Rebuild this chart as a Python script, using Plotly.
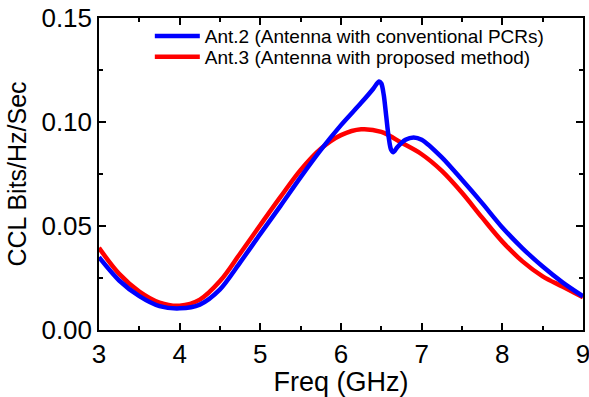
import plotly.graph_objects as go

# Ant.3 (proposed method) - red
freq_red = [3.00, 3.25, 3.50, 3.75, 4.00, 4.25, 4.50, 4.75, 5.00, 5.25, 5.50, 5.75, 6.00,
            6.25, 6.50, 6.75, 7.00, 7.25, 7.50, 7.75, 8.00, 8.25, 8.50, 8.75, 9.00]
ccl_red = [0.0395, 0.0270, 0.0185, 0.0132, 0.0117, 0.0146, 0.0235, 0.0368, 0.0505, 0.0640,
           0.0770, 0.0872, 0.0937, 0.0965, 0.0952, 0.0900, 0.0845, 0.0765, 0.0660, 0.0540,
           0.0425, 0.0330, 0.0258, 0.0208, 0.0158]

# Ant.2 (conventional PCRs) - blue
freq_blue = [3.00, 3.25, 3.50, 3.75, 4.00, 4.25, 4.50, 4.75, 5.00, 5.25, 5.50, 5.75, 6.00,
             6.25, 6.40, 6.47, 6.50, 6.53, 6.56, 6.59, 6.62, 6.65, 6.70, 6.80, 6.90, 7.00,
             7.25, 7.50, 7.75, 8.00, 8.25, 8.50, 8.75, 9.00]
ccl_blue = [0.0350, 0.0238, 0.0163, 0.0115, 0.0104, 0.0122, 0.0195, 0.0325, 0.0462, 0.0597,
            0.0735, 0.0866, 0.0985, 0.1092, 0.1160, 0.1195, 0.1185, 0.1130, 0.1030, 0.0930,
            0.0868, 0.0855, 0.0880, 0.0915, 0.0926, 0.0915, 0.0830, 0.0722, 0.0610, 0.0493,
            0.0393, 0.0305, 0.0228, 0.0162]

x_ticks = [3, 4, 5, 6, 7, 8, 9]
y_ticks = [0.00, 0.05, 0.10, 0.15]

FONT = "Liberation Sans, Arial, sans-serif"

fig = go.Figure()
fig.add_trace(go.Scatter(x=freq_red, y=ccl_red, mode="lines",
                         name="Ant.3 (Antenna with proposed method)", legend="legend2",
                         line=dict(color="#ff0000", width=4.5, shape="spline", smoothing=1.0)))
fig.add_trace(go.Scatter(x=freq_blue, y=ccl_blue, mode="lines",
                         name="Ant.2 (Antenna with conventional PCRs)", legend="legend",
                         line=dict(color="#0000ff", width=4.5, shape="spline", smoothing=0.8)))

axis_common = dict(showline=True, linecolor="black", linewidth=1.5, mirror="allticks",
                   ticks="inside", ticklen=7, tickwidth=1.5, tickcolor="black",
                   showgrid=False, zeroline=False, automargin=False,
                   ticklabeloverflow="allow",
                   tickfont=dict(family=FONT, size=26, color="black"))

fig.update_xaxes(range=[3, 9], tickvals=x_ticks, ticktext=[str(v) for v in x_ticks],
                 minor=dict(dtick=0.5, ticks="inside", ticklen=4, tickwidth=1.5, tickcolor="black"),
                 title=dict(text="Freq (GHz)", font=dict(family=FONT, size=27, color="black"), standoff=4),
                 **axis_common)
fig.update_yaxes(range=[0, 0.15], tickvals=y_ticks, ticktext=["%.2f" % v for v in y_ticks],
                 minor=dict(dtick=0.025, ticks="inside", ticklen=4, tickwidth=1.5, tickcolor="black"),
                 title=dict(text="CCL Bits/Hz/Sec", font=dict(family=FONT, size=25, color="black"), standoff=8),
                 **axis_common)

leg_common = dict(xanchor="left", yanchor="middle", bgcolor="rgba(0,0,0,0)", borderwidth=0,
                  font=dict(family=FONT, size=19, color="black"), itemwidth=45)

fig.update_layout(
    width=589, height=397,
    margin=dict(l=99, r=6, t=18, b=67),
    paper_bgcolor="white", plot_bgcolor="white",
    showlegend=True,
    legend=dict(x=0.105, y=0.942, **leg_common),
    legend2=dict(x=0.105, y=0.875, **leg_common),
)

fig.write_html("out.html")
